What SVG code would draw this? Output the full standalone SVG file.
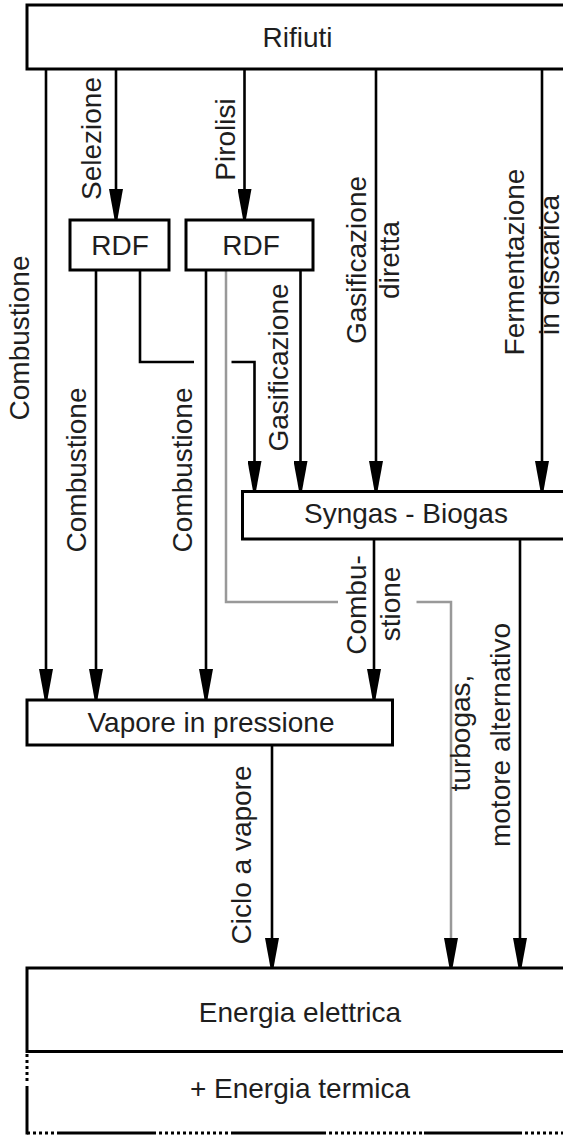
<svg xmlns="http://www.w3.org/2000/svg" width="563" height="1135" viewBox="0 0 563 1135">
<style>
  .box { fill: #fff; stroke: #000; stroke-width: 3; }
  .edge { fill: none; stroke: #000; stroke-width: 3; }
  .dot { fill: none; stroke: #000; stroke-width: 3; stroke-dasharray: 3 3; }
  .c { fill: none; stroke: #000; stroke-width: 2.6; }
  .g { fill: none; stroke: #999; stroke-width: 2.5; }
  .t { font-family: "Liberation Sans", Arial, sans-serif; font-size: 28px; fill: #1e1e1e; text-anchor: middle; }
</style>
<defs>
  <marker id="ah" markerUnits="userSpaceOnUse" markerWidth="30" markerHeight="14" viewBox="0 0 30 14" refX="30" refY="7" orient="auto">
    <path d="M0,0 L30,5.5 L30,8.5 L0,14 Z" fill="#000"/>
  </marker>
</defs>
<rect width="563" height="1135" fill="#fff"/>

<g id="connectors">
  <path class="c" d="M46,69 V699" marker-end="url(#ah)"/>
  <path class="c" d="M116,69 V219" marker-end="url(#ah)"/>
  <path class="c" d="M244.5,69 V219" marker-end="url(#ah)"/>
  <path class="c" d="M376,69 V491" marker-end="url(#ah)"/>
  <path class="c" d="M542,69 V491" marker-end="url(#ah)"/>
  <path class="c" d="M96,270 V699" marker-end="url(#ah)"/>
  <path class="c" d="M140,270 V362 H194"/>
  <path class="c" d="M231.5,362 H254.5 V491" marker-end="url(#ah)"/>
  <path class="c" d="M206,270 V699" marker-end="url(#ah)"/>
  <path class="c" d="M300.5,270 V491" marker-end="url(#ah)"/>
  <path class="g" d="M226,270 V602 H338"/>
  <path class="g" d="M416.5,602 H451 V968" marker-end="url(#ah)"/>
  <path class="c" d="M374,539 V699" marker-end="url(#ah)"/>
  <path class="c" d="M520,539 V968" marker-end="url(#ah)"/>
  <path class="c" d="M272,745 V968" marker-end="url(#ah)"/>
</g>

<g id="labels">
  <text class="t" transform="translate(29,338) rotate(-90)">Combustione</text>
  <text class="t" transform="translate(100.5,138.5) rotate(-90)">Selezione</text>
  <text class="t" transform="translate(235,139.5) rotate(-90)">Pirolisi</text>
  <text class="t" transform="translate(366,260) rotate(-90)">Gasificazione</text>
  <text class="t" transform="translate(398.5,260) rotate(-90)">diretta</text>
  <text class="t" transform="translate(524,262) rotate(-90)">Fermentazione</text>
  <text class="t" transform="translate(559,265) rotate(-90)">in discarica</text>
  <text class="t" transform="translate(86,470) rotate(-90)">Combustione</text>
  <text class="t" transform="translate(192,470) rotate(-90)">Combustione</text>
  <text class="t" transform="translate(288,367.5) rotate(-90)">Gasificazione</text>
  <text class="t" transform="translate(365.5,605) rotate(-90)">Combu-</text>
  <text class="t" transform="translate(399.5,604) rotate(-90)">stione</text>
  <text class="t" transform="translate(470,733) rotate(-90)">turbogas,</text>
  <text class="t" transform="translate(510,735) rotate(-90)">motore alternativo</text>
  <text class="t" transform="translate(251,855) rotate(-90)">Ciclo a vapore</text>
</g>

<g id="rifiuti">
  <rect class="box" x="27" y="5" width="560" height="64"/>
  <text class="t" x="297.5" y="47">Rifiuti</text>
</g>
<g id="rdf1">
  <rect class="box" x="70" y="220" width="99" height="50"/>
  <text class="t" x="120" y="255">RDF</text>
</g>
<g id="rdf2">
  <rect class="box" x="186" y="220" width="127" height="50"/>
  <text class="t" x="251" y="255">RDF</text>
</g>
<g id="syngas">
  <rect class="box" x="242.5" y="491.5" width="340" height="47.5"/>
  <text class="t" x="406" y="523">Syngas - Biogas</text>
</g>
<g id="vapore">
  <rect class="box" x="27" y="700" width="365.5" height="45"/>
  <text class="t" x="211" y="732">Vapore in pressione</text>
</g>
<g id="energia">
  <rect class="box" x="27" y="968" width="560" height="83.5"/>
  <text class="t" x="300" y="1022">Energia elettrica</text>
  <line class="dot" x1="27" y1="1054" x2="27" y2="1084"/>
  <line class="edge" x1="27" y1="1086" x2="27" y2="1134.5"/>
  <line class="dot" x1="27" y1="1133" x2="60" y2="1133"/>
  <line class="edge" x1="60" y1="1133" x2="153" y2="1133"/>
  <line class="dot" x1="153" y1="1133" x2="233" y2="1133"/>
  <line class="edge" x1="233" y1="1133" x2="323" y2="1133"/>
  <line class="dot" x1="323" y1="1133" x2="424" y2="1133"/>
  <line class="edge" x1="424" y1="1133" x2="519" y2="1133"/>
  <line class="dot" x1="519" y1="1133" x2="563" y2="1133"/>
  <text class="t" x="300" y="1098">+ Energia termica</text>
</g>
</svg>
